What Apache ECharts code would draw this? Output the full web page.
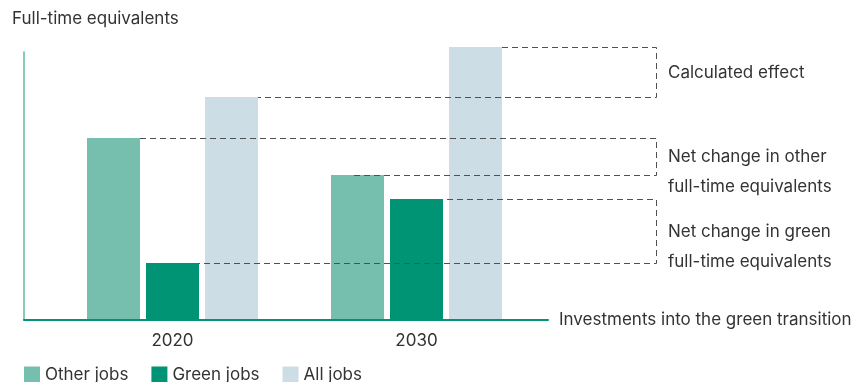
<!DOCTYPE html>
<html>
<head>
<meta charset="utf-8">
<script src="https://cdn.jsdelivr.net/npm/echarts@6/dist/echarts.min.js"></script>
<style>
  html, body { margin: 0; padding: 0; background: #ffffff; }
  #chart { width: 855px; height: 382px; }
</style>
</head>
<body>
<div id="chart"></div>
<script>
// Categories and values (full-time equivalents, arbitrary units)
const years = ['2020', '2030'];
const otherJobs = [181, 144];
const greenJobs = [56, 120];
const allJobs = [222, 272];
const seriesNames = ['Other jobs', 'Green jobs', 'All jobs'];

// Text labels
const yTitle = 'Full-time equivalents';
const xTitle = 'Investments into the green transition';
const calculatedLabel = 'Calculated effect';
const otherChangeLabel = ['Net change in other', 'full-time equivalents'];
const greenChangeLabel = ['Net change in green', 'full-time equivalents'];

// Styling
const FONT = 'Inter, "Noto Sans", sans-serif';
const FONT_SIZE = 17;
const TEXT = '#333333';
const COLORS = ['#76bfaf', '#009474', '#ccdde5'];
const BAR_W = 53;
const BAR_GAP = 6;
const BRACKET_X = 656.5;
const LABEL_X = 668;
const DASH = { stroke: '#505050', lineWidth: 1, lineDash: [6, 4] };

const chart = echarts.init(document.getElementById('chart'), null, { renderer: 'canvas' });

const barSeries = [otherJobs, greenJobs, allJobs].map((values, i) => ({
  name: seriesNames[i],
  type: 'bar',
  xAxisIndex: 1,
  yAxisIndex: 1,
  data: values,
  barWidth: BAR_W,
  barGap: (BAR_GAP / BAR_W * 100) + '%',
  itemStyle: { color: COLORS[i] },
  animation: false
}));

const option = {
  animation: false,
  color: COLORS,
  textStyle: { fontFamily: FONT },
  title: {
    text: yTitle,
    left: 12,
    top: 10,
    padding: 0,
    textStyle: { fontFamily: FONT, fontSize: FONT_SIZE, fontWeight: 'normal', color: TEXT }
  },
  legend: {
    left: 24,
    top: 366,
    padding: 0,
    itemWidth: 16,
    itemHeight: 16,
    itemGap: 23,
    icon: 'rect',
    data: seriesNames,
    textStyle: { fontFamily: FONT, fontSize: FONT_SIZE, color: TEXT }
  },
  grid: [
    // frame: the L-shaped axes
    { left: 24, right: 307, top: 52, bottom: 62 },
    // bars
    { left: 50.5, right: 316.5, top: 47, bottom: 63 }
  ],
  xAxis: [
    {
      gridIndex: 0,
      type: 'value',
      min: 0,
      max: 1,
      axisLine: { show: true, lineStyle: { color: '#009474', width: 2 } },
      axisTick: { show: false },
      axisLabel: { show: false },
      splitLine: { show: false },
      name: xTitle,
      nameLocation: 'end',
      nameGap: 11,
      nameTextStyle: { fontFamily: FONT, fontSize: FONT_SIZE, color: TEXT, verticalAlign: 'middle', padding: [0, 0, 10, 0] }
    },
    {
      gridIndex: 1,
      type: 'category',
      data: years,
      axisLine: { show: false },
      axisTick: { show: false },
      axisLabel: { fontFamily: FONT, fontSize: FONT_SIZE, color: TEXT, margin: 13 }
    }
  ],
  yAxis: [
    {
      gridIndex: 0,
      type: 'value',
      min: 0,
      max: 1,
      axisLine: { show: true, lineStyle: { color: '#5cbca3', width: 1.5 } },
      axisTick: { show: false },
      axisLabel: { show: false },
      splitLine: { show: false }
    },
    {
      gridIndex: 1,
      type: 'value',
      min: 0,
      max: 272,
      show: false,
      splitLine: { show: false }
    }
  ],
  series: barSeries
};

chart.setOption(option);

// Pixel helpers for bar edges and value heights
const nSeries = barSeries.length;
function barCenter(catIndex, seriesIndex) {
  const c = chart.convertToPixel({ gridIndex: 1 }, [catIndex, 0])[0];
  return c + (seriesIndex - (nSeries - 1) / 2) * (BAR_W + BAR_GAP);
}
function barLeft(ci, si) { return barCenter(ci, si) - BAR_W / 2; }
function barRight(ci, si) { return barCenter(ci, si) + BAR_W / 2; }
function valueY(v) { return Math.round(chart.convertToPixel({ gridIndex: 1 }, [0, v])[1]) + 0.5; }

function bracket(xTop, vTop, xBottom, vBottom) {
  const yTop = valueY(vTop), yBottom = valueY(vBottom);
  return {
    type: 'polyline',
    z: 100,
    silent: true,
    shape: { points: [[xTop, yTop], [BRACKET_X, yTop], [BRACKET_X, yBottom], [xBottom, yBottom]] },
    style: Object.assign({ fill: null }, DASH),
    mid: (yTop + yBottom) / 2
  };
}

function bracketLabel(lines, midY) {
  return {
    type: 'text',
    z: 100,
    silent: true,
    x: LABEL_X,
    y: midY - 15,
    style: {
      text: lines.join('\n'),
      fill: TEXT,
      font: FONT_SIZE + 'px ' + FONT,
      lineHeight: 30,
      verticalAlign: 'top',
      align: 'left'
    }
  };
}

// Calculated effect: all jobs 2030 vs all jobs 2020
const bCalc = bracket(barRight(1, 2), allJobs[1], barRight(0, 2), allJobs[0]);
// Net change in other jobs: other 2020 vs other 2030
const bOther = bracket(barRight(0, 0), otherJobs[0], barCenter(1, 0) - 4, otherJobs[1]);
// Net change in green jobs: green 2030 vs green 2020
const bGreen = bracket(barRight(1, 1) + 4, greenJobs[1], barRight(0, 1), greenJobs[0]);

const graphics = [];
[[bCalc, [calculatedLabel]], [bOther, otherChangeLabel], [bGreen, greenChangeLabel]].forEach(([b, lines]) => {
  const mid = b.mid;
  delete b.mid;
  graphics.push(b);
  graphics.push(bracketLabel(lines, mid));
});

chart.setOption({ graphic: graphics });
</script>
</body>
</html>
